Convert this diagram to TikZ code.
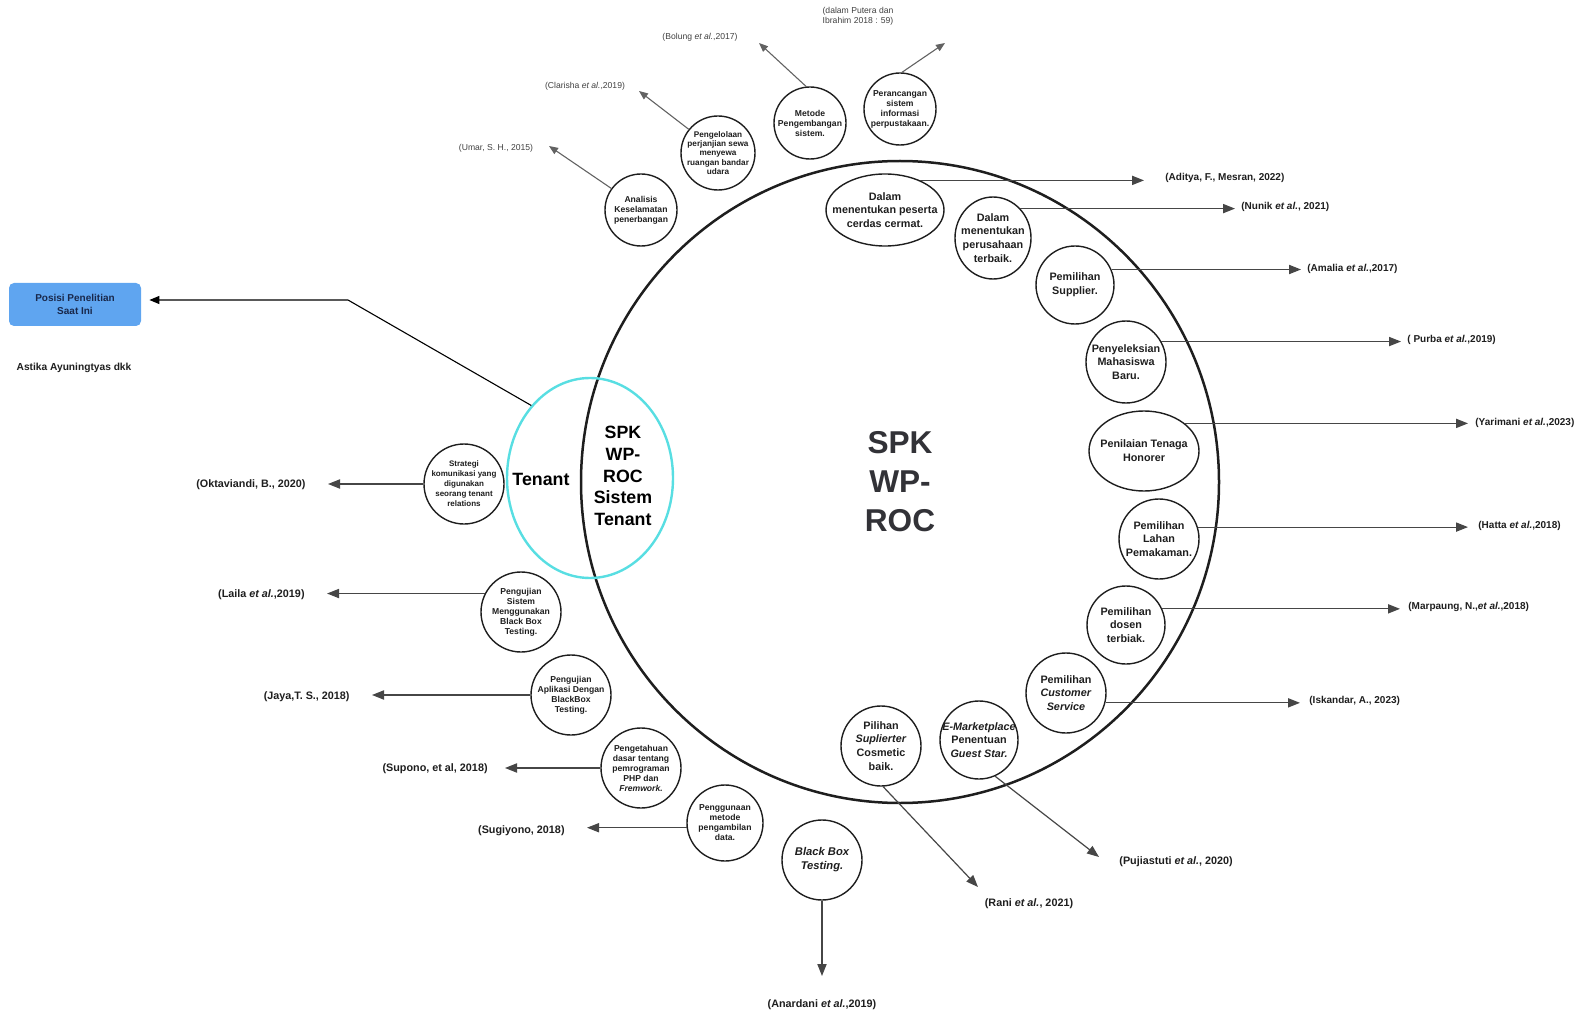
\documentclass[tikz,border=0pt]{standalone}
\usepackage{fontspec}
\setmainfont{Liberation Sans}
\usetikzlibrary{arrows.meta,shapes.geometric}
\definecolor{ink}{RGB}{30,30,30}
\definecolor{wire}{RGB}{70,70,70}
\definecolor{tenantc}{RGB}{88,222,226}
\definecolor{boxblue}{RGB}{95,165,240}
\definecolor{boxtext}{RGB}{25,40,75}
\definecolor{bigtext}{RGB}{50,50,55}
\begin{document}
\begin{tikzpicture}[x=0.5pt,y=-0.5pt,
  topic/.style={draw=ink, line width=0.7pt, inner sep=-12pt, align=center, text=ink},
  bigc/.style={topic, circle, font=\fontsize{5.4pt}{6.9pt}\selectfont\bfseries},
  bige/.style={topic, ellipse, font=\fontsize{5.4pt}{6.9pt}\selectfont\bfseries},
  smallc/.style={topic, circle, font=\fontsize{4.3pt}{5pt}\selectfont\bfseries},
  cite/.style={inner sep=0pt, text=ink, font=\fontsize{5.4pt}{6.5pt}\selectfont\bfseries},
  rcite/.style={cite, font=\fontsize{5pt}{6pt}\selectfont\bfseries},
  topcite/.style={inner sep=0pt, text=ink!85, align=center, font=\fontsize{4.3pt}{5.1pt}\selectfont},
  arr/.style={draw=wire, line width=0.6pt, -{Triangle[length=6pt,width=4.6pt]}},
  sarr/.style={draw=wire!85, line width=0.55pt, -{Triangle[length=4.5pt,width=3.6pt]}},
]
\useasboundingbox (0,0) rectangle (1580,1016);

% central decision-support circle
\node[ellipse, draw=ink, line width=1.25pt, minimum width=319pt, minimum height=321pt,
  inner sep=0pt, align=center, text=bigtext,
  font=\fontsize{15.8pt}{19.5pt}\selectfont\bfseries] (core) at (900,482) {SPK\\WP-\\ROC};

% tenant overlap
\node[ellipse, draw=tenantc, line width=1.2pt, minimum width=83pt, minimum height=100pt, inner sep=0pt] (ten) at (590,478) {};
\node[inner sep=0pt, font=\fontsize{8.9pt}{10.8pt}\selectfont\bfseries] (tenl) at (541,479) {Tenant};
\node[inner sep=0pt, align=center, font=\fontsize{8.9pt}{10.8pt}\selectfont\bfseries] (tens) at (623,476) {SPK\\WP-\\ROC\\Sistem\\Tenant};

% position box
\node[rectangle, rounded corners=2.5pt, fill=boxblue, minimum width=66pt, minimum height=21.5pt,
  align=center, text=boxtext, font=\fontsize{5pt}{6.2pt}\selectfont\bfseries] (pos) at (75,304.5) {Posisi Penelitian\\Saat Ini};
\node[inner sep=0pt, text=ink, font=\fontsize{5.1pt}{6pt}\selectfont\bfseries] (auth) at (74,368) {Astika Ayuningtyas dkk};
\coordinate (kink) at (348,300);
\draw[black, line width=0.55pt, -{Triangle[length=5pt,width=4pt]}, shorten >=4pt] (ten.129) -- (kink) -- (kink -| pos.east);

% upper studies
\node[smallc, minimum size=36pt] (A1) at (641,210) {Analisis\\Keselamatan\\penerbangan};
\node[smallc, minimum size=37pt, font=\fontsize{4.1pt}{4.6pt}\selectfont\bfseries] (A2) at (718,153) {Pengelolaan\\perjanjian sewa\\menyewa\\ruangan bandar\\udara};
\node[smallc, minimum size=36pt] (A3) at (810,123) {Metode\\Pengembangan\\sistem.};
\node[smallc, minimum size=36pt] (A4) at (900,109) {Perancangan\\sistem\\informasi\\perpustakaan.};
\coordinate (tA1) at (549,146);
\coordinate (tA2) at (639,91);
\coordinate (tA3) at (759,43);
\coordinate (tA4) at (945,43);
\draw[sarr] (A1.144) -- (tA1);
\draw[sarr] (A2.141) -- (tA2);
\draw[sarr] (A3.96) -- (tA3);
\draw[sarr] (A4.87) -- (tA4);
\node[topcite] (cA1) at (496,148) {(Umar, S. H., 2015)};
\node[topcite] (cA2) at (585,86) {(Clarisha \textit{et al.},2019)};
\node[topcite] (cA3) at (700,37) {(Bolung \textit{et al.},2017)};
\node[topcite] (cA4) at (858,16) {(dalam Putera dan\\Ibrahim 2018 : 59)};

% studies on the right
\node[bige, minimum width=59pt, minimum height=36pt] (B1) at (885,210) {Dalam\\menentukan peserta\\cerdas cermat.};
\node[bige, minimum width=38pt, minimum height=41pt] (B2) at (993,238) {Dalam\\menentukan\\perusahaan\\terbaik.};
\node[bigc, minimum size=39pt] (B3) at (1075,285) {Pemilihan\\Supplier.};
\node[bige, minimum width=40pt, minimum height=41pt] (B4) at (1126,362) {Penyeleksian\\Mahasiswa\\Baru.};
\node[bige, minimum width=55pt, minimum height=40pt] (B5) at (1144,451) {Penilaian Tenaga\\Honorer};
\node[bigc, minimum size=40pt] (B6) at (1159,539) {Pemilihan\\Lahan\\Pemakaman.};
\node[bigc, minimum size=39pt] (B7) at (1126,625) {Pemilihan\\dosen\\terbiak.};
\node[bigc, minimum size=40pt] (B8) at (1066,693) {Pemilihan\\\textit{Customer}\\\textit{Service}};
\node[bigc, minimum size=39pt] (B9) at (979,740) {\textit{E-Marketplace}\\Penentuan\\\textit{Guest Star.}};
\node[bigc, minimum size=40pt] (B10) at (881,746) {Pilihan\\\textit{Suplierter}\\Cosmetic\\baik.};

\coordinate (eB1) at (1144,0);
\coordinate (eB2) at (1235,0);
\coordinate (eB3) at (1301,0);
\coordinate (eB4) at (1401,0);
\coordinate (eB5) at (1468,0);
\coordinate (eB6) at (1468,0);
\coordinate (eB7) at (1400,0);
\coordinate (eB8) at (1300,0);
\draw[arr] (B1.40) -- (B1.40 -| eB1);
\draw[arr] (B2.47) -- (B2.47 -| eB2);
\draw[arr] (B3.23) -- (B3.23 -| eB3);
\draw[arr] (B4.30) -- (B4.30 -| eB4);
\draw[arr] (B5.34) -- (B5.34 -| eB5);
\draw[arr] (B6.17) -- (B6.17 -| eB6);
\draw[arr] (B7.24) -- (B7.24 -| eB7);
\draw[arr] (B8.-14) -- (B8.-14 -| eB8);
\node[rcite, anchor=west] (cB1) at (1165,178) {(Aditya, F., Mesran, 2022)};
\node[rcite, anchor=west] (cB2) at (1241,207) {(Nunik \textit{et al.}, 2021)};
\node[rcite, anchor=west] (cB3) at (1307,269) {(Amalia \textit{et al.},2017)};
\node[rcite, anchor=west] (cB4) at (1407,340) {( Purba \textit{et al.},2019)};
\node[rcite, anchor=west] (cB5) at (1475,423) {(Yarimani \textit{et al.},2023)};
\node[rcite, anchor=west] (cB6) at (1478,526) {(Hatta \textit{et al.},2018)};
\node[rcite, anchor=west] (cB7) at (1408,607) {(Marpaung, N.,\textit{et al.},2018)};
\node[rcite, anchor=west] (cB8) at (1309,701) {(Iskandar, A., 2023)};

\coordinate (tB9) at (1099,857);
\coordinate (tB10) at (978,887);
\draw[arr] (B9.-66) -- (tB9);
\draw[arr] (B10.-87) -- (tB10);
\node[cite, anchor=west] (cB9) at (1119,862) {(Pujiastuti \textit{et al.}, 2020)};
\node[cite] (cB10) at (1029,904) {(Rani \textit{et al.}, 2021)};

% studies on the lower left
\node[bigc, minimum size=40pt, font=\fontsize{5.6pt}{7pt}\selectfont\bfseries\itshape] (C1) at (822,860) {Black Box\\Testing.};
\node[smallc, minimum size=38pt] (C2) at (725,823) {Penggunaan\\metode\\pengambilan\\data.};
\node[smallc, minimum size=40pt] (C3) at (641,768) {Pengetahuan\\dasar tentang\\pemrograman\\PHP dan\\\textit{Fremwork.}};
\node[smallc, minimum size=40pt] (C4) at (571,695) {Pengujian\\Aplikasi Dengan\\BlackBox\\Testing.};
\node[smallc, minimum size=40pt] (C5) at (521,612) {Pengujian\\Sistem\\Menggunakan\\Black Box\\Testing.};
\node[smallc, minimum size=40pt, font=\fontsize{4pt}{5pt}\selectfont\bfseries] (C6) at (464,484) {Strategi\\komunikasi yang\\digunakan\\seorang tenant\\relations};

\coordinate (tC1) at (0,976);
\coordinate (tC2) at (587,0);
\coordinate (tC3) at (505,0);
\coordinate (tC4) at (372,0);
\coordinate (tC5) at (327,0);
\coordinate (tC6) at (328,0);
\draw[arr] (C1.south) -- (C1.south |- tC1);
\draw[arr] (C2.187) -- (C2.187 -| tC2);
\draw[arr] (C3.west) -- (C3.west -| tC3);
\draw[arr] (C4.west) -- (C4.west -| tC4);
\draw[arr] (C5.153) -- (C5.153 -| tC5);
\draw[arr] (C6.west) -- (C6.west -| tC6);
\node[cite] (cC1) at (822,1005) {(Anardani \textit{et al.},2019)};
\node[cite, anchor=east] (cC2) at (565,831) {(Sugiyono, 2018)};
\node[cite, anchor=east] (cC3) at (488,769) {(Supono, et al, 2018)};
\node[cite, anchor=east] (cC4) at (350,697) {(Jaya,T. S., 2018)};
\node[cite, anchor=east] (cC5) at (305,595) {(Laila \textit{et al.},2019)};
\node[cite, anchor=east] (cC6) at (306,485) {(Oktaviandi, B., 2020)};
\end{tikzpicture}
\end{document}
